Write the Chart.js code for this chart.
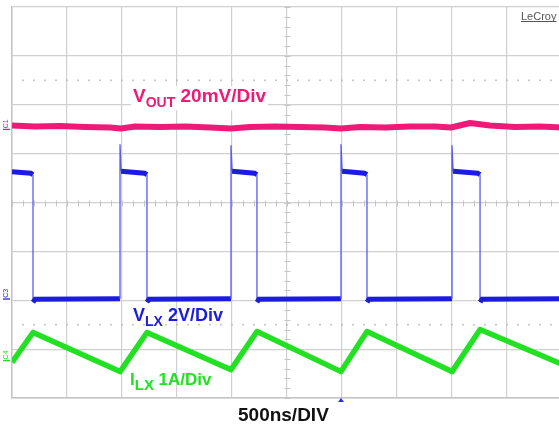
<!DOCTYPE html>
<html>
<head>
<meta charset="utf-8">
<script src="https://cdn.jsdelivr.net/npm/chart.js@4/dist/chart.umd.min.js"></script>
<style>
html,body{margin:0;padding:0;background:#fff;overflow:hidden;width:559px;height:424px;}
#wrap{position:absolute;left:0;top:0;width:562px;height:424px;}
</style>
</head>
<body>
<div id="wrap"><canvas id="c" width="562" height="424"></canvas></div>
<script>
// ---- data (time in ns, values in screen divisions) ----
const timeDivLabel = "500ns/DIV";
const xMin = -2500, xMax = 2500;     // 10 div x 500 ns
const yMin = -4, yMax = 4;           // 8 vertical divisions

const voutTime = [-2500,-2291,-2064,-1836,-1609,-1509,-1382,-1155,-927,-700,-509,-336,-109,118,345,491,664,891,1118,1345,1491,1664,1845,2073,2300,2500];
const voutDiv  = [1.575,1.554,1.564,1.544,1.534,1.513,1.554,1.544,1.554,1.534,1.513,1.544,1.554,1.544,1.534,1.513,1.544,1.534,1.554,1.554,1.534,1.626,1.575,1.544,1.554,1.534];

const vlxTime = [-2500,-2330,-2309,-2309,-2290,-1518,-1518,-1508,-1295,-1273,-1273,-1255,-509,-509,-499,-295,-273,-273,-255,491,491,501,705,727,727,745,1500,1500,1510,1733,1755,1755,1773,2500];
const vlxDiv  = [0.63,0.60,0.57,-2.04,-1.98,-1.97,1.19,0.64,0.60,0.57,-2.04,-1.98,-1.97,1.17,0.64,0.60,0.57,-2.04,-1.98,-1.97,1.19,0.64,0.60,0.57,-2.04,-1.98,-1.97,1.17,0.64,0.60,0.57,-2.04,-1.98,-1.97];

const ilxTime = [-2500,-2309,-1518,-1273,-509,-273,491,727,1500,1755,2500];
const ilxDiv  = [-3.27,-2.66,-3.46,-2.66,-3.42,-2.64,-3.46,-2.64,-3.46,-2.60,-3.31];

const channelLabels = [
  {name:"C1", level:1.57,  color:"#ee1a78"},
  {name:"C3", level:-1.90, color:"#2424dc"},
  {name:"C4", level:-3.16, color:"#22dd22"}
];
const triggerTime = 491;

const pts = (t, v) => t.map((x, i) => ({x, y: v[i]}));

const PINK = "#ee1a78", BLUE = "#1c1ce0", GREEN = "#22e022";
const FONT = "'Liberation Sans', Arial, sans-serif";

function drawSubLabel(ctx, x, y, main, sub, rest, color, size, subSize, subDrop) {
  ctx.fillStyle = color;
  ctx.textBaseline = "alphabetic";
  ctx.textAlign = "left";
  ctx.font = "bold " + size + "px " + FONT;
  ctx.fillText(main, x, y);
  let cx = x + ctx.measureText(main).width;
  ctx.font = "bold " + subSize + "px " + FONT;
  ctx.fillText(sub, cx, y + subDrop);
  cx += ctx.measureText(sub).width;
  ctx.font = "bold " + size + "px " + FONT;
  ctx.fillText(rest, cx, y);
}

const overlay = {
  id: "scopeOverlay",
  beforeDatasetsDraw(chart) {
    const {ctx, scales: {x, y}} = chart;
    ctx.save();
    const cx = Math.round(x.getPixelForValue(0)) + 0.5;
    const cy = Math.round(y.getPixelForValue(0)) + 0.5;
    ctx.strokeStyle = "#c4c4c4";
    ctx.lineWidth = 1;
    ctx.beginPath();
    for (let i = -20; i <= 20; i++) {
      const py = Math.round(y.getPixelForValue(i * 0.2)) + 0.5;
      ctx.moveTo(cx - 3, py); ctx.lineTo(cx + 3, py);
    }
    for (let i = -25; i <= 25; i++) {
      const px = Math.round(x.getPixelForValue(i * 100)) + 0.5;
      ctx.moveTo(px, cy - 3); ctx.lineTo(px, cy + 3);
    }
    ctx.stroke();
    ctx.fillStyle = "#b8b8b8";
    [2.5, -2.5].forEach(v => {
      const py = y.getPixelForValue(v);
      for (let i = -24; i < 25; i++) {
        const px = x.getPixelForValue(i * 100);
        ctx.fillRect(px - 0.8, py - 0.8, 1.6, 1.6);
      }
    });
    ctx.restore();
  },
  afterDatasetsDraw(chart) {
    const {ctx, scales: {x, y}, chartArea: a} = chart;
    ctx.save();
    // VOUT label with white box
    const vy = y.getPixelForValue(2.05);
    ctx.fillStyle = "#fff";
    ctx.fillRect(131, vy - 16, 137, 24);
    drawSubLabel(ctx, 133, vy, "V", "OUT", " 20mV/Div", PINK, 19, 14, 5);
    drawSubLabel(ctx, 133, y.getPixelForValue(-2.43), "V", "LX", " 2V/Div", BLUE, 18, 14, 5);
    drawSubLabel(ctx, 130, y.getPixelForValue(-3.73), "I", "LX", " 1A/Div", GREEN, 17, 15, 5);

    // channel markers
    channelLabels.forEach(c => {
      const py = y.getPixelForValue(c.level);
      ctx.save();
      ctx.fillStyle = c.color;
      ctx.translate(6.5, py - 2);
      ctx.rotate(-Math.PI / 2);
      ctx.font = "7px " + FONT;
      ctx.textAlign = "center";
      ctx.textBaseline = "middle";
      ctx.fillText(c.name, 0, 0);
      ctx.restore();
      ctx.fillStyle = c.color;
      ctx.fillRect(3, py + 3, 7, 1.3);
    });

    // trigger marker
    const tx = x.getPixelForValue(triggerTime);
    ctx.fillStyle = "#2a2ae0";
    ctx.beginPath();
    ctx.moveTo(tx, a.bottom);
    ctx.lineTo(tx - 3, a.bottom + 4);
    ctx.lineTo(tx + 3, a.bottom + 4);
    ctx.closePath();
    ctx.fill();

    // time/div
    ctx.fillStyle = "#111";
    ctx.font = "bold 19px " + FONT;
    ctx.textAlign = "left";
    ctx.textBaseline = "alphabetic";
    ctx.fillText(timeDivLabel, 238, 421);

    // LeCroy
    ctx.fillStyle = "#555";
    ctx.font = "11px " + FONT;
    ctx.fillText("LeCroy", 521, 20);
    const w = ctx.measureText("LeCroy").width;
    ctx.fillRect(521, 21, w, 1);
    ctx.restore();
  }
};

new Chart(document.getElementById("c"), {
  type: "line",
  data: {
    datasets: [
      {data: pts(voutTime, voutDiv), borderColor: PINK, borderWidth: 6, pointRadius: 0, tension: 0, borderJoinStyle: "round"},
      {data: pts(vlxTime, vlxDiv), borderColor: BLUE, borderWidth: 5, pointRadius: 0, tension: 0,
       segment: {
         borderWidth: ctx => Math.abs(ctx.p1.parsed.x - ctx.p0.parsed.x) < 15 ? 1.3 : 5,
         borderColor: ctx => Math.abs(ctx.p1.parsed.x - ctx.p0.parsed.x) < 15 ? "#5a5af0" : BLUE
       }},
      {data: pts(ilxTime, ilxDiv), borderColor: GREEN, borderWidth: 5.5, pointRadius: 0, tension: 0, borderJoinStyle: "round"}
    ]
  },
  options: {
    responsive: false,
    devicePixelRatio: 1,
    animation: false,
    parsing: true,
    layout: {padding: {left: 12, top: 7, right: 0, bottom: 26}},
    plugins: {legend: {display: false}, tooltip: {enabled: false}},
    scales: {
      x: {type: "linear", min: xMin, max: xMax,
          ticks: {display: false, stepSize: 500},
          grid: {color: "#d0d0d0", lineWidth: 1.2, drawTicks: false},
          border: {display: true, color: "#c4c4c4", width: 1.5}},
      y: {type: "linear", min: yMin, max: yMax,
          ticks: {display: false, stepSize: 1},
          grid: {color: "#d0d0d0", lineWidth: 1.2, drawTicks: false},
          border: {display: true, color: "#c4c4c4", width: 1.5}}
    }
  },
  plugins: [overlay]
});
</script>
</body>
</html>
